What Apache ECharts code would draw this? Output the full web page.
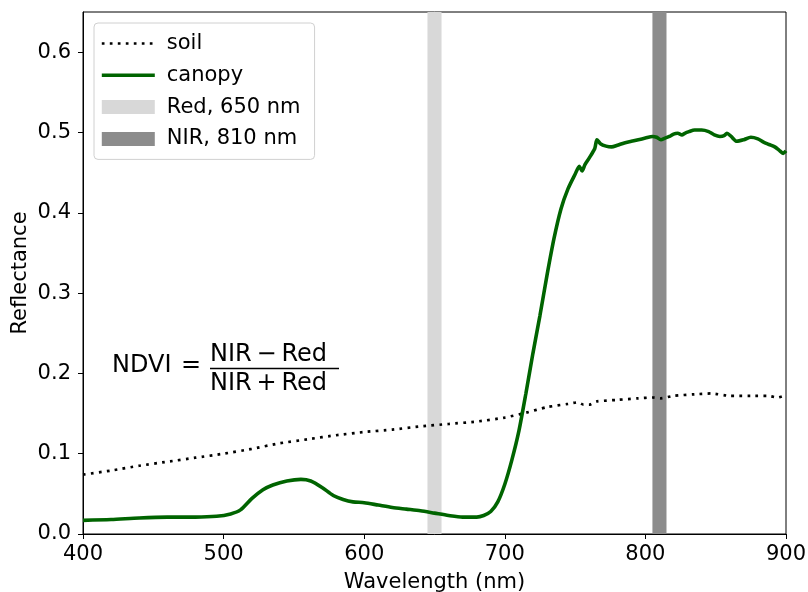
<!DOCTYPE html>
<html>
<head>
<meta charset="utf-8">
<script src="https://cdn.jsdelivr.net/npm/echarts@6/dist/echarts.min.js"></script>
<style>
html,body{margin:0;padding:0;background:#fff;}
#chart{width:808px;height:592px;}
</style>
</head>
<body>
<div id="chart"></div>
<script>
// ---- data ----
const soilWavelength = [400,420,440,460,480,500,520,540,560,580,600,620,640,660,680,700,715,730,745,752,756,760,765,780,795,805,811,820,835,847,860,875,887,894,900];
const soilReflectance = [0.074,0.079,0.085,0.090,0.095,0.100,0.106,0.113,0.118,0.123,0.127,0.130,0.134,0.137,0.140,0.145,0.151,0.158,0.162,0.164,0.161,0.161,0.165,0.167,0.169,0.170,0.169,0.172,0.174,0.175,0.172,0.172,0.172,0.170,0.173];

const canopyWavelength = [400,420,440,460,480,495,505,512,520,528,535,545,555,562,570,578,585,592,600,610,620,630,640,650,660,670,680,685,690,695,700,705,710,715,720,725,730,735,740,745,750,753,755,757,760,764,765.5,768,772,776,780,785,790,795,800,805,808,811,814,817,820,823,826,828,831,835,840,845,849,853,856,858,861,865,870,875,880,884,888,892,895,898,900];
const canopyReflectance = [0.017,0.018,0.020,0.021,0.021,0.022,0.025,0.030,0.044,0.055,0.061,0.066,0.068,0.066,0.058,0.048,0.043,0.040,0.039,0.036,0.033,0.031,0.029,0.026,0.023,0.021,0.021,0.023,0.028,0.040,0.062,0.092,0.128,0.175,0.225,0.272,0.322,0.368,0.405,0.430,0.448,0.458,0.452,0.460,0.468,0.480,0.491,0.486,0.483,0.482,0.484,0.487,0.489,0.491,0.493,0.495,0.494,0.491,0.493,0.495,0.498,0.499,0.497,0.499,0.501,0.503,0.503,0.501,0.497,0.495,0.496,0.499,0.495,0.489,0.491,0.494,0.492,0.488,0.485,0.482,0.478,0.474,0.477];

const redBand = [645, 655];
const nirBand = [805, 815];

const seriesNames = ['soil', 'canopy', 'Red, 650 nm', 'NIR, 810 nm'];
const xTicks = [400, 500, 600, 700, 800, 900];
const yTicks = [0.0, 0.1, 0.2, 0.3, 0.4, 0.5, 0.6];
const xRange = [400, 900];
const yRange = [0, 0.65];

// ---- chart ----
const FONT = 'DejaVu Sans';
const chart = echarts.init(document.getElementById('chart'), null, {renderer: 'canvas'});

function zip(a, b) { return a.map((v, i) => [v, b[i]]); }

function bandRender(params, api) {
  const x0 = api.value(0), x1 = api.value(1);
  const p0 = api.coord([x0, yRange[1]]);
  const p1 = api.coord([x1, yRange[0]]);
  return {
    type: 'rect',
    shape: {x: p0[0], y: p0[1], width: p1[0] - p0[0], height: p1[1] - p0[1]},
    style: {fill: api.visual('color')}
  };
}

const option = {
  animation: false,
  backgroundColor: '#fff',
  textStyle: {fontFamily: FONT},
  grid: {left: 83, right: 22, top: 12, bottom: 58, show: true, borderColor: '#000', borderWidth: 1,
    backgroundColor: 'transparent', containLabel: false, outerBoundsMode: 'none'},
  legend: {
    orient: 'vertical',
    left: 94, top: 23,
    padding: [10, 14, 10, 6],
    itemWidth: 53, itemHeight: 14, itemGap: 10.8,
    backgroundColor: '#fff',
    borderColor: '#d0d0d0', borderWidth: 1, borderRadius: 4,
    selectedMode: false,
    textStyle: {fontFamily: FONT, fontSize: 21, color: '#000', lineHeight: 20, padding: [0, 0, 0, 7]},
    data: [
      {name: seriesNames[0], itemStyle: {opacity: 0}, lineStyle: {width: 2.7}},
      {name: seriesNames[1], itemStyle: {opacity: 0}, lineStyle: {width: 3.6}},
      {name: seriesNames[2], icon: 'rect'},
      {name: seriesNames[3], icon: 'rect'}
    ]
  },
  xAxis: {
    type: 'value', min: xRange[0], max: xRange[1], interval: 100,
    name: 'Wavelength (nm)', nameLocation: 'middle', nameGap: 38,
    nameTextStyle: {fontFamily: FONT, fontSize: 21, color: '#000'},
    axisLine: {show: true, lineStyle: {color: '#000', width: 1}},
    axisTick: {show: true, length: 5, lineStyle: {color: '#000'}, customValues: xTicks},
    axisLabel: {fontFamily: FONT, fontSize: 21, color: '#000', margin: 10, customValues: xTicks},
    splitLine: {show: false}
  },
  yAxis: {
    type: 'value', min: yRange[0], max: yRange[1], interval: 0.1,
    name: 'Reflectance', nameLocation: 'middle', nameGap: 52, nameMoveOverlap: false,
    nameTextStyle: {fontFamily: FONT, fontSize: 21, color: '#000'},
    axisLine: {show: true, lineStyle: {color: '#000', width: 1}},
    axisTick: {show: true, length: 5, lineStyle: {color: '#000'}, customValues: yTicks},
    axisLabel: {fontFamily: FONT, fontSize: 21, color: '#000', margin: 12, customValues: yTicks,
      formatter: v => v.toFixed(1)},
    splitLine: {show: false}
  },
  series: [
    {
      name: seriesNames[0], type: 'line', z: 3,
      data: zip(soilWavelength, soilReflectance),
      showSymbol: false, symbol: 'none', smooth: 0.2,
      itemStyle: {color: '#000'},
      lineStyle: {color: '#000', width: 2.7, type: [2.7, 5.3]}
    },
    {
      name: seriesNames[1], type: 'line', z: 4,
      data: zip(canopyWavelength, canopyReflectance),
      showSymbol: false, symbol: 'none', smooth: 0.25,
      itemStyle: {color: '#006400'},
      lineStyle: {color: '#006400', width: 3.6}
    },
    {
      name: seriesNames[2], type: 'custom', z: 1,
      renderItem: bandRender,
      itemStyle: {color: '#d8d8d8'},
      data: [redBand],
      encode: {x: [0, 1]}
    },
    {
      name: seriesNames[3], type: 'custom', z: 1,
      renderItem: bandRender,
      itemStyle: {color: '#8c8c8c'},
      data: [nirBand],
      encode: {x: [0, 1]}
    }
  ],
  graphic: [
    {type: 'text', left: 112, top: 354, style: {text: 'NDVI', font: '24px "DejaVu Sans"', fill: '#000'}, z: 10},
    {type: 'text', left: 181, top: 354, style: {text: '=', font: '24px "DejaVu Sans"', fill: '#000'}, z: 10},
    {type: 'text', left: 210, top: 343, style: {text: 'NIR\u2009\u2212\u2009Red', font: '24px "DejaVu Sans"', fill: '#000'}, z: 10},
    {type: 'line', shape: {x1: 210, y1: 368.5, x2: 339, y2: 368.5}, style: {stroke: '#000', lineWidth: 1.3}, z: 10},
    {type: 'text', left: 210, top: 372, style: {text: 'NIR\u2009+\u2009Red', font: '24px "DejaVu Sans"', fill: '#000'}, z: 10}
  ]
};
chart.setOption(option);
</script>
</body>
</html>
